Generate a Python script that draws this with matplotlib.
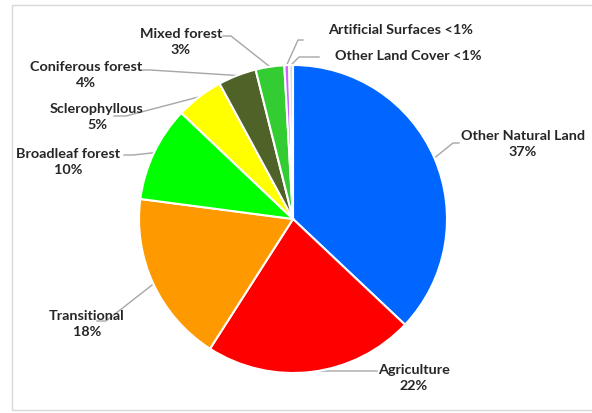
import numpy as np
import matplotlib
matplotlib.use("Agg")
import matplotlib.pyplot as plt
from matplotlib.patches import Rectangle

# land cover shares (%), clockwise from 12 o'clock
categories = ["Other Natural Land", "Agriculture", "Transitional", "Broadleaf forest",
              "Sclerophyllous", "Coniferous forest", "Mixed forest",
              "Artificial Surfaces", "Other Land Cover"]
shares = [37, 22, 18, 10, 5, 4, 3, 0.5, 0.4]
share_text = ["37%", "22%", "18%", "10%", "5%", "4%", "3%", "<1%", "<1%"]
colors = ["#0066FF", "#FF0000", "#FF9900", "#00FF00", "#FFFF00",
          "#4F6228", "#33CC33", "#CC66FF", "#D9D9D9"]

W, H = 592, 414
CX, CY, R = 293, 220, 154   # pie centre and radius in pixels


def px(x, y):
    # pixel position -> data units (pie radius = 1)
    return (x - CX) / R, (CY - y) / R


# label centre, elbow and end of the leader line, in pixels
label_layout = {
    "Other Natural Land": ((523, 144), (453, 144), (459, 144)),
    "Agriculture": ((414, 378), (318, 372), (377, 372)),
    "Transitional": ((87, 324), (106, 322), (97, 322)),
    "Broadleaf forest": ((68, 162), (133, 156), (124, 156)),
    "Sclerophyllous": ((97, 117), (126, 117), (114, 117)),
    "Coniferous forest": ((86, 75), (150, 71), (142, 71)),
    "Mixed forest": ((181, 42), (231, 37), (223, 37)),
    "Artificial Surfaces": ((401, 30), (298, 41), (303, 41)),
    "Other Land Cover": ((408, 56), (299, 58), (319, 58)),
}

plt.rcParams["font.family"] = ["Lato", "DejaVu Sans"]

fig = plt.figure(figsize=(W / 100, H / 100), dpi=100)
ax = fig.add_axes([0, 0, 1, 1])

wedges, _ = ax.pie(shares, colors=colors, startangle=90, counterclock=False,
                   wedgeprops=dict(edgecolor="white", linewidth=1.5))

for w, name, txt in zip(wedges, categories, share_text):
    mid = np.deg2rad((w.theta1 + w.theta2) / 2)
    sx, sy = np.cos(mid), np.sin(mid)
    (tx, ty), elbow, end = label_layout[name]
    ex, ey = px(*elbow)
    nx, ny = px(*end)
    ax.plot([sx, ex, nx], [sy, ey, ny], color="#A6A6A6", lw=1, zorder=0)
    if txt == "<1%":
        s = name + " " + txt
    else:
        s = name + "\n" + txt
    x, y = px(tx, ty)
    ax.text(x, y, s, ha="center", va="center", fontsize=10.4, fontweight="bold",
            color="#262626", linespacing=1.4)

ax.set_aspect("auto")
ax.set_xlim(-CX / R, (W - CX) / R)
ax.set_ylim(-(H - CY) / R, CY / R)
ax.axis("off")

# chart area border
fig.patches.append(Rectangle((12 / W, (H - 411) / H), (W + 10 - 12) / W, (411 - 6) / H,
                             transform=fig.transFigure, fill=False,
                             edgecolor="#D9D9D9", lw=1))

fig.savefig("out.png", dpi=100)
